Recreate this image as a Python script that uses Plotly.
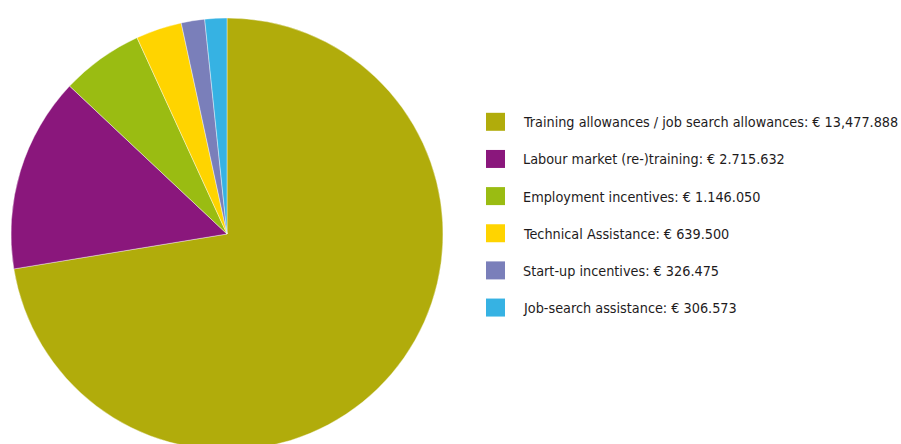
import plotly.graph_objects as go

# Active labour market spending by measure (EUR)
categories = [
    "Training allowances / job search allowances",
    "Labour market (re-)training",
    "Employment incentives",
    "Technical Assistance",
    "Start-up incentives",
    "Job-search assistance",
]
amounts = [13477888, 2715632, 1146050, 639500, 326475, 306573]
amount_labels = ["€ 13,477.888", "€ 2.715.632", "€ 1.146.050", "€ 639.500", "€ 326.475", "€ 306.573"]
colors = ["#B1AC0B", "#8A177C", "#9ABC12", "#FFD400", "#7A7FBA", "#36B2E3"]

W, H = 901, 470


def px_x(x):
    return x / W


def px_y(y):
    return 1 - y / H


fig = go.Figure(
    go.Pie(
        labels=categories,
        values=amounts,
        marker=dict(colors=colors, line=dict(color="white", width=0.4)),
        sort=False,
        direction="clockwise",
        rotation=0,
        textinfo="none",
        hoverinfo="label+value",
        showlegend=False,
        domain=dict(x=[px_x(11), px_x(443)], y=[px_y(450), px_y(18)]),
    )
)

# Custom legend: coloured squares with label text
first_row, row_step = 121.8, 37.15
shapes, annotations = [], []
for i, (cat, lab, col) in enumerate(zip(categories, amount_labels, colors)):
    cy = first_row + i * row_step
    shapes.append(dict(
        type="rect", xref="paper", yref="paper",
        x0=px_x(486), x1=px_x(505), y0=px_y(cy + 9), y1=px_y(cy - 9),
        fillcolor=col, line=dict(width=0),
    ))
    annotations.append(dict(
        xref="paper", yref="paper", x=px_x(521), y=px_y(cy + 0.5),
        xanchor="left", yanchor="middle", showarrow=False,
        text=f"{cat}: {lab}",
        font=dict(family="DejaVu Sans Condensed, sans-serif", size=14.3, color="#1e1b1c"),
    ))

fig.update_layout(
    width=W, height=H,
    margin=dict(l=0, r=0, t=0, b=0),
    paper_bgcolor="white",
    plot_bgcolor="white",
    shapes=shapes,
    annotations=annotations,
)

fig.write_html(
    "out.html",
    post_script="document.documentElement.style.overflow='hidden';document.body.style.overflow='hidden';document.body.style.margin='0';",
)
